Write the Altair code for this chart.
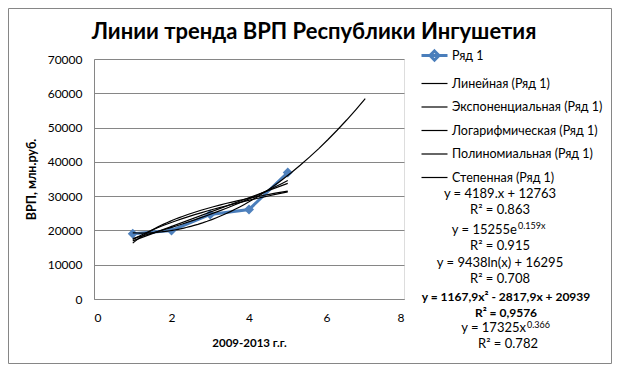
import altair as alt
import pandas as pd

# ---- data ----
years_idx = [1, 2, 3, 4, 5]
grp = [19000, 20000, 24670, 26100, 36890]

series_names = [
    "Ряд 1",
    "Линейная (Ряд 1)",
    "Экспоненциальная (Ряд 1)",
    "Логарифмическая (Ряд 1)",
    "Полиномиальная (Ряд 1)",
    "Степенная (Ряд 1)",
]
x_ticks = [0, 2, 4, 6, 8]
y_ticks = [0, 10000, 20000, 30000, 40000, 50000, 60000, 70000]

title_text = "Линии тренда ВРП Республики Ингушетия"
x_title = "2009-2013 г.г."
y_title = "ВРП, млн.руб."

eq_lines = [
    "y = 4189.x + 12763",
    "R² = 0.863",
    "y = 15255e",
    "R² = 0.915",
    "y = 9438ln(x) + 16295",
    "R² = 0.708",
    "y = 1167,9x² - 2817,9x + 20939",
    "R² = 0,9576",
    "y = 17325x",
    "R² = 0.782",
]
eq_exponents = ["0.159x", "0.366"]

FONT = "Lato, Liberation Sans, sans-serif"
BLUE_LINE = "#4A7EBB"
BLUE_MARK = "#4F81BD"
GRID = "#868686"
LEGEND_SERIES_SHAPE = "M-1,0L1,0M0,-0.35L0.35,0L0,0.35L-0.35,0Z"

df = pd.DataFrame({"x": years_idx, "y": grp, "series": series_names[0]})

color_scale = alt.Scale(domain=series_names, range=[BLUE_LINE] + ["#000000"] * 5)
width_scale = alt.Scale(type="ordinal", domain=series_names, range=[3] + [1.2] * 5)
shape_scale = alt.Scale(domain=series_names, range=[LEGEND_SERIES_SHAPE] + ["stroke"] * 5)

legend = alt.Legend(
    title=None,
    orient="none",
    legendX=326,
    legendY=-18,
    padding=0,
    symbolType="stroke",
    symbolSize=676,
    symbolFillColor=BLUE_MARK,
    labelFont=FONT,
    labelFontSize=12.5,
    labelColor="black",
    labelOffset=3,
    rowPadding=2.5,
    labelOverlap=False,
)

x_enc = alt.X("x:Q", scale=alt.Scale(domain=[0, 8], nice=False),
              axis=alt.Axis(values=x_ticks, tickCount=10, title=x_title, grid=False,
                            ticks=False, domain=True, domainColor=GRID, labelPadding=13,
                            titlePadding=14, labelFont=FONT, labelFontSize=12,
                            labelColor="black", titleFont=FONT, titleFontSize=11.5,
                            titleFontWeight="bold", titleColor="black",
                            labelOverlap=False))
y_enc = alt.Y("y:Q", scale=alt.Scale(domain=[0, 70000], nice=False),
              axis=alt.Axis(values=y_ticks, tickCount=10, format="d", title=y_title,
                            grid=True, gridColor=GRID, gridWidth=1, ticks=False,
                            domain=True, domainColor=GRID, labelPadding=12,
                            titlePadding=9, labelFont=FONT, labelFontSize=12,
                            labelColor="black", titleFont=FONT, titleFontSize=12.5,
                            titleFontWeight="bold", titleColor="black",
                            labelOverlap=False))
color_enc = alt.Color("series:N", scale=color_scale, legend=legend)
width_enc = alt.StrokeWidth("series:N", scale=width_scale, legend=legend)
shape_enc = alt.Shape("series:N", scale=shape_scale, legend=legend)

base = alt.Chart(df)
data_line = base.mark_line().encode(x=x_enc, y=y_enc, color=color_enc, strokeWidth=width_enc)
data_pts = base.mark_point(shape="diamond", filled=True, size=100, opacity=1,
                           color=BLUE_MARK).encode(x="x:Q", y="y:Q")
# empty layer that only carries the legend symbol shapes
legend_layer = base.transform_filter("false").mark_point(
    filled=False, opacity=1).encode(x="x:Q", y="y:Q", color=color_enc,
                                    shape=shape_enc, strokeWidth=width_enc)


def trend(method, name, order=None, extent=None):
    kw = {"method": method}
    if order is not None:
        kw["order"] = order
    if extent is not None:
        kw["extent"] = extent
    return (base.transform_regression("x", "y", **kw)
            .transform_calculate(series=f"'{name}'")
            .mark_line()
            .encode(x="x:Q", y="y:Q", color=color_enc, strokeWidth=width_enc))


trends = [
    trend("linear", series_names[1]),
    trend("exp", series_names[2]),
    trend("log", series_names[3]),
    trend("poly", series_names[4], order=2, extent=[1, 7]),
    trend("pow", series_names[5]),
]

one = alt.Data(values=[{}])


def txt(s, x, y, size=13, weight="normal", align="center"):
    return alt.Chart(one).mark_text(text=s, align=align, baseline="middle", font=FONT,
                                    fontSize=size, fontWeight=weight,
                                    color="black").encode(x=alt.value(x), y=alt.value(y))


ann = [
    txt(eq_lines[0], 406, 135),
    txt(eq_lines[1], 406, 151),
    txt(eq_lines[2], 423, 171, align="right"),
    txt(eq_exponents[0], 424, 167, size=9, align="left"),
    txt(eq_lines[3], 406, 187),
    txt(eq_lines[4], 406, 204),
    txt(eq_lines[5], 406, 220),
    txt(eq_lines[6], 412, 238, size=12, weight="bold"),
    txt(eq_lines[7], 412, 254, size=12, weight="bold"),
    txt(eq_lines[8], 432, 269, align="right"),
    txt(eq_exponents[1], 433, 266, size=9, align="left"),
    txt(eq_lines[9], 414, 285),
]

border = alt.Chart(one).mark_rect(fill="transparent", stroke=GRID, strokeWidth=1).encode(
    x=alt.value(-85.5), x2=alt.value(517.5), y=alt.value(-50.5), y2=alt.value(304.5))

chart = alt.layer(border, data_line, data_pts, legend_layer, *trends, *ann).properties(
    width=310,
    height=240,
    autosize=alt.AutoSizeParams(type="none"),
    padding={"left": 86, "top": 51, "right": 208, "bottom": 65},
    title=alt.TitleParams(title_text, font=FONT, fontSize=22, fontWeight="bold",
                          color="black", anchor="middle", frame="group",
                          baseline="alphabetic", offset=-53, dx=65),
).configure_view(stroke=None).configure(background="white")

chart.save("out.html", embed_options={"renderer": "svg", "actions": False})
